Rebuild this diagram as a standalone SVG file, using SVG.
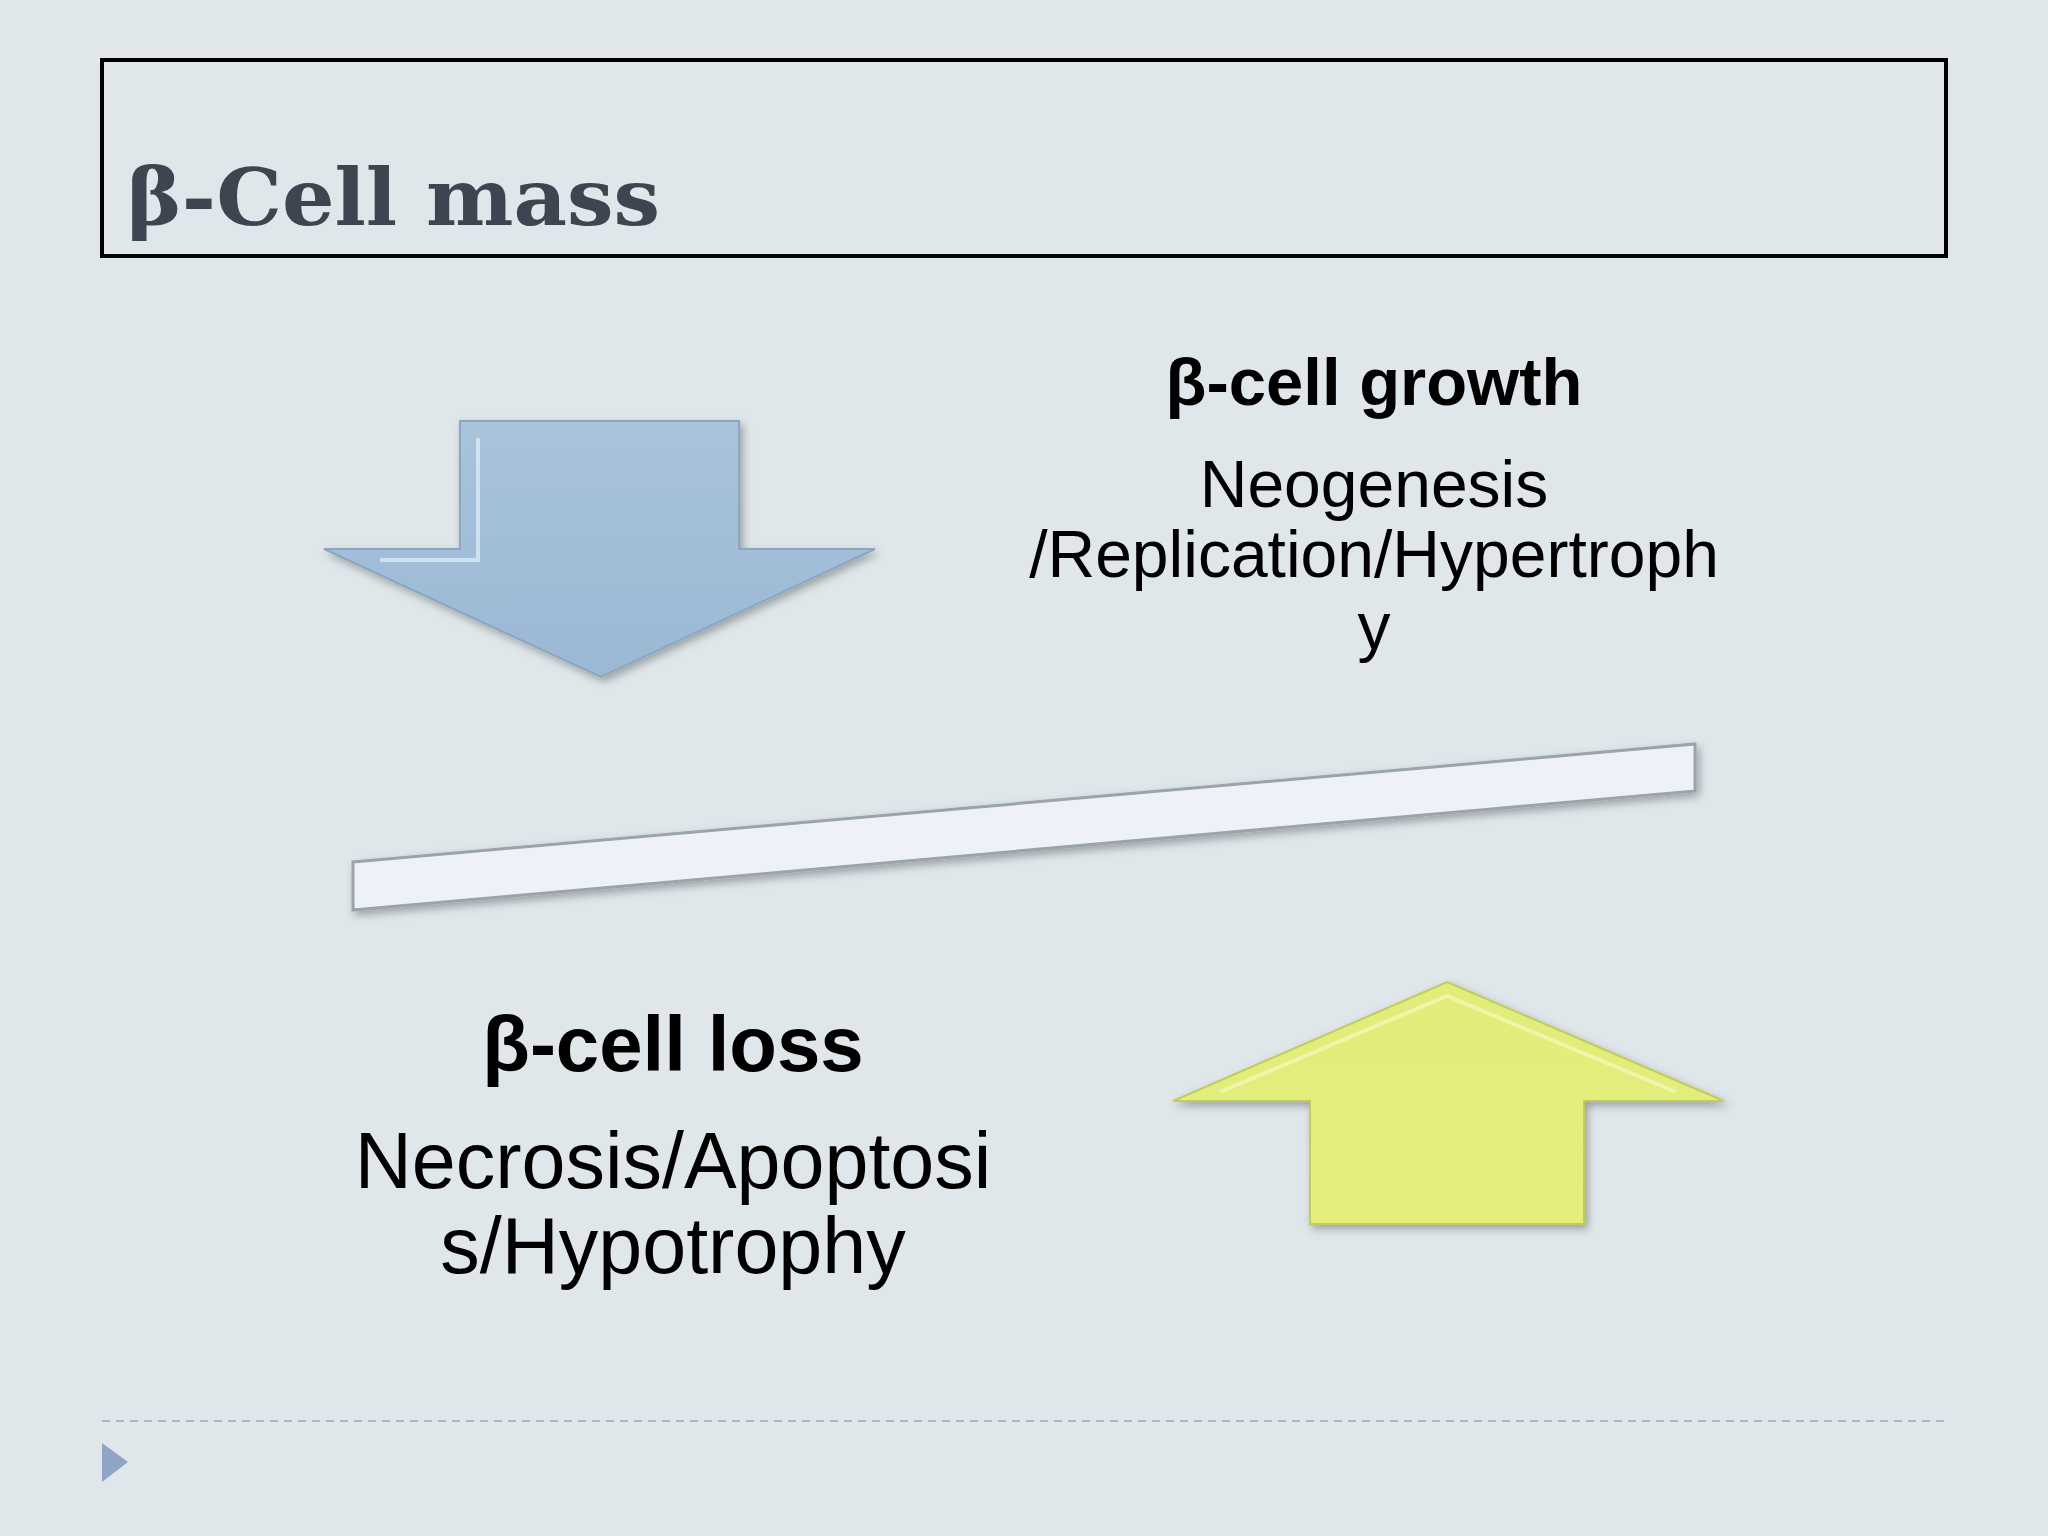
<svg xmlns="http://www.w3.org/2000/svg" width="2048" height="1536" viewBox="0 0 2048 1536">
<defs>
<linearGradient id="bl" x1="0" y1="0" x2="0" y2="1"><stop offset="0" stop-color="#a9c3dc"/><stop offset="1" stop-color="#9bb8d4"/></linearGradient>
<linearGradient id="yl" x1="0" y1="0" x2="0" y2="1"><stop offset="0" stop-color="#e2ec7a"/><stop offset="1" stop-color="#e6ef7c"/></linearGradient>
<filter id="sh" x="-10%" y="-10%" width="130%" height="130%"><feDropShadow dx="3" dy="4" stdDeviation="4" flood-color="#000" flood-opacity="0.3"/></filter>
<style>
.t{font-family:"Liberation Sans",Arial,sans-serif;fill:#000;text-anchor:middle}
.b{font-weight:bold}
</style>
</defs>
<rect width="2048" height="1536" fill="#dfe7ea"/>
<g id="title">
<rect x="102" y="60" width="1844" height="196" fill="none" stroke="#000" stroke-width="4"/>
<text x="127" y="225" font-family="DejaVu Serif,serif" font-weight="bold" font-size="78" fill="#3f4550" textLength="533" lengthAdjust="spacingAndGlyphs">β-Cell mass</text>
</g>
<g id="down-arrow" filter="url(#sh)">
<polygon points="460,421 739,421 739,549 875,549 601,677 324,549 460,549" fill="url(#bl)" stroke="#8aa6c0" stroke-width="2"/>
<polyline points="478,438 478,560 380,560" fill="none" stroke="#dbe8f4" stroke-width="4" opacity="0.8"/>
</g>
<g id="growth">
<text class="t b" x="1374" y="405" font-size="67">β-cell growth</text>
<text class="t" x="1374" y="507" font-size="66">Neogenesis</text>
<text class="t" x="1374" y="577" font-size="66">/Replication/Hypertroph</text>
<text class="t" x="1374" y="649" font-size="66">y</text>
</g>
<g id="bar" filter="url(#sh)">
<polygon points="353,862 1695,744 1695,791 353,910" fill="#eef2f8" stroke="#9aa4ad" stroke-width="3"/>
</g>
<g id="loss">
<text class="t b" x="673" y="1071" font-size="78">β-cell loss</text>
<text class="t" x="673" y="1188" font-size="79">Necrosis/Apoptosi</text>
<text class="t" x="673" y="1273" font-size="79">s/Hypotrophy</text>
</g>
<g id="up-arrow" filter="url(#sh)">
<polygon points="1447,982 1724,1101 1584,1101 1584,1224 1310,1224 1310,1101 1173,1101" fill="url(#yl)" stroke="#c2cc5a" stroke-width="2"/>
<polyline points="1220,1092 1447,996 1676,1092" fill="none" stroke="#f2f7b4" stroke-width="4" opacity="0.8"/>
</g>
<g id="footer">
<line x1="102" y1="1421" x2="1946" y2="1421" stroke="#a9b8c8" stroke-width="2" stroke-dasharray="8,6"/>
<polygon points="102,1443 128,1462 102,1482" fill="#8fa4c6"/>
</g>
</svg>
